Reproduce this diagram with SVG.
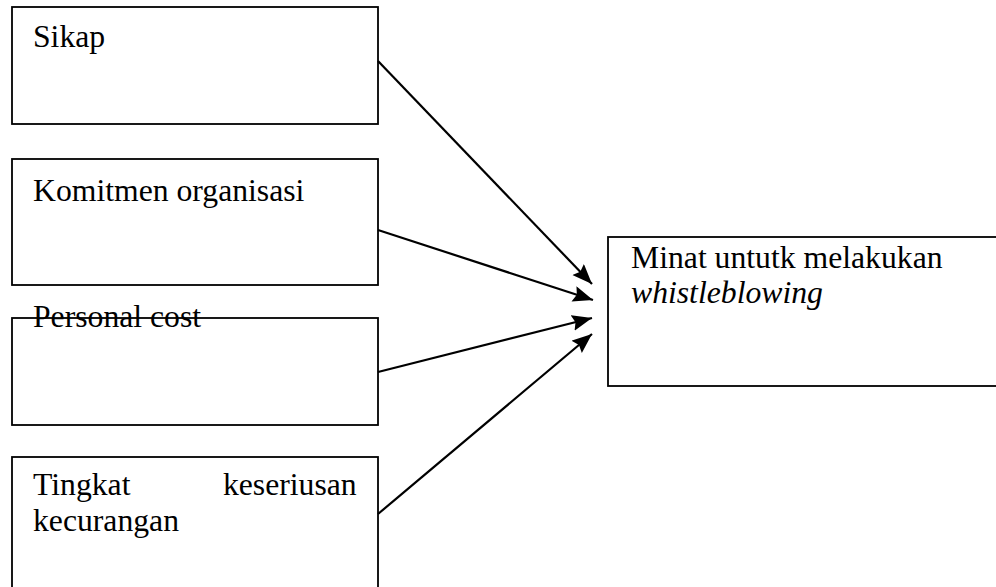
<svg xmlns="http://www.w3.org/2000/svg" width="996" height="587" viewBox="0 0 996 587">
  <style>
    .box { fill: #ffffff; stroke: #000000; stroke-width: 1.8; }
    .lbl { font-family: "Liberation Serif", "Times New Roman", serif; font-size: 31.7px; fill: #000000; }
    .conn { fill: none; stroke: #000000; stroke-width: 2.2; }
  </style>
  <defs>
    <marker id="arrow" markerUnits="userSpaceOnUse" markerWidth="22" markerHeight="18" refX="20" refY="8" orient="auto">
      <path d="M0,0 L20,8 L0,16 L3,8 z" fill="#000000"/>
    </marker>
  </defs>
  <rect width="996" height="587" fill="#ffffff"/>
  <g id="node-sikap">
    <rect class="box" x="12" y="7" width="366" height="117"/>
    <text class="lbl" x="33" y="47">Sikap</text>
  </g>
  <g id="node-komitmen">
    <rect class="box" x="12" y="159" width="366" height="126"/>
    <text class="lbl" x="33" y="201">Komitmen organisasi</text>
  </g>
  <g id="node-personal">
    <rect class="box" x="12" y="318" width="366" height="107"/>
    <text class="lbl" x="33" y="327">Personal cost</text>
  </g>
  <g id="node-tingkat">
    <rect class="box" x="12" y="457" width="366" height="150"/>
    <text class="lbl"><tspan x="33" y="495">Tingkat</tspan><tspan x="215" y="495"> keseriusan</tspan><tspan x="33" y="531">kecurangan</tspan></text>
  </g>
  <g id="node-minat">
    <rect class="box" x="608" y="237" width="400" height="149"/>
    <text class="lbl"><tspan x="631" y="268">Minat untutk melakukan</tspan><tspan x="631" y="303" font-style="italic">whistleblowing</tspan></text>
  </g>
  <g id="connectors">
    <line class="conn" x1="378" y1="61" x2="592" y2="284" marker-end="url(#arrow)"/>
    <line class="conn" x1="378" y1="230" x2="593" y2="300" marker-end="url(#arrow)"/>
    <line class="conn" x1="378" y1="372" x2="592" y2="318" marker-end="url(#arrow)"/>
    <line class="conn" x1="378" y1="514" x2="592" y2="334" marker-end="url(#arrow)"/>
  </g>
</svg>
